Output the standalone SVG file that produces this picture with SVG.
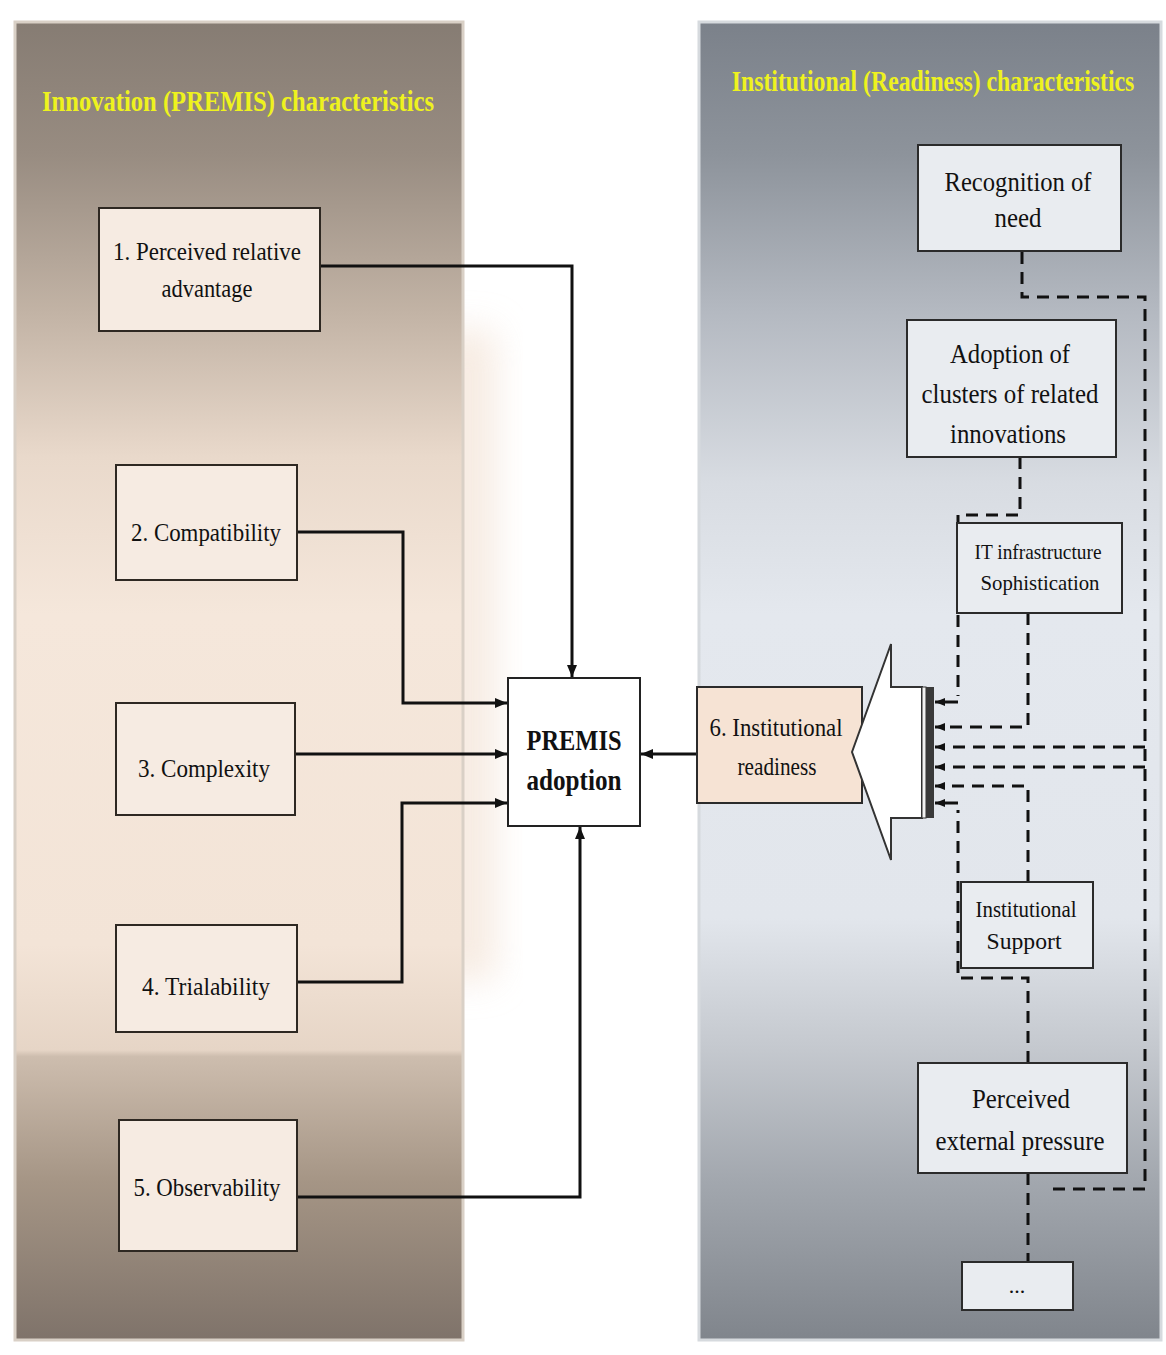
<svg xmlns="http://www.w3.org/2000/svg" width="1166" height="1355" viewBox="0 0 1166 1355">
<defs>
<linearGradient id="gL" x1="0" y1="0" x2="0" y2="1">
<stop offset="0" stop-color="#867c73"/>
<stop offset="0.1" stop-color="#988c81"/>
<stop offset="0.22" stop-color="#c2b3a5"/>
<stop offset="0.33" stop-color="#e9d9cb"/>
<stop offset="0.45" stop-color="#f5e7db"/>
<stop offset="0.7" stop-color="#f3e4d7"/>
<stop offset="0.78" stop-color="#e6d5c6"/>
<stop offset="0.785" stop-color="#cdbdae"/>
<stop offset="0.88" stop-color="#a59585"/>
<stop offset="1" stop-color="#7f736a"/>
</linearGradient>
<linearGradient id="gR" x1="0" y1="0" x2="0" y2="1">
<stop offset="0" stop-color="#7b818a"/>
<stop offset="0.1" stop-color="#8d939b"/>
<stop offset="0.22" stop-color="#b4b9c1"/>
<stop offset="0.35" stop-color="#d8dce2"/>
<stop offset="0.45" stop-color="#e4e8ee"/>
<stop offset="0.68" stop-color="#e2e6ec"/>
<stop offset="0.78" stop-color="#c4c8ce"/>
<stop offset="0.88" stop-color="#a2a7ae"/>
<stop offset="1" stop-color="#80858c"/>
</linearGradient>
<filter id="blur" x="-50%" y="-10%" width="200%" height="120%">
<feGaussianBlur stdDeviation="18"/>
</filter>
<marker id="ah" viewBox="0 0 12 10" refX="12" refY="5" markerWidth="12" markerHeight="10" markerUnits="userSpaceOnUse" orient="auto">
<path d="M0,0 L12,5 L0,10 z" fill="#111"/>
</marker>
<marker id="ahs" viewBox="0 0 10 8" refX="10" refY="4" markerWidth="10" markerHeight="8" markerUnits="userSpaceOnUse" orient="auto">
<path d="M0,0 L10,4 L0,8 z" fill="#111"/>
</marker>
</defs>
<style>
.t{font-family:"Liberation Serif","Times New Roman",serif;fill:#111;text-anchor:middle}
.ttl{font-family:"Liberation Serif","Times New Roman",serif;font-weight:bold;fill:#eef21e;text-anchor:middle}
.lb{fill:#f6ebe2;stroke:#2e2822;stroke-width:2}
.rb{fill:#e9ecf0;stroke:#2b2b2b;stroke-width:2}
.c{fill:none;stroke:#111;stroke-width:3}
.d{fill:none;stroke:#111;stroke-width:3;stroke-dasharray:12 8}
</style>
<rect width="1166" height="1355" fill="#ffffff"/>
<rect x="440" y="330" width="55" height="650" fill="#f3e2d4" opacity="0.7" filter="url(#blur)"/>
<g id="panel-left">
<rect x="15" y="22" width="448" height="1318" fill="url(#gL)" stroke="#d9d0c6" stroke-width="3"/>
<text class="ttl" transform="translate(238,111) scale(0.82,1)" x="0" y="0" font-size="30">Innovation (PREMIS) characteristics</text>
</g>
<g id="panel-right">
<rect x="699" y="22" width="462" height="1318" fill="url(#gR)" stroke="#d6dade" stroke-width="3"/>
<text class="ttl" transform="translate(933,91) scale(0.82,1)" x="0" y="0" font-size="29">Institutional (Readiness) characteristics</text>
</g>
<g id="connectors">
<path class="c" d="M320,266 H572 V677" marker-end="url(#ah)"/>
<path class="c" d="M297,532 H403 V703 H507" marker-end="url(#ah)"/>
<path class="c" d="M295,754 H507" marker-end="url(#ah)"/>
<path class="c" d="M297,982 H402 V803 H507" marker-end="url(#ah)"/>
<path class="c" d="M297,1197 H580 V827" marker-end="url(#ah)"/>
<path class="c" d="M697,754 H641" marker-end="url(#ah)"/>
<path class="d" d="M1022,252 V297 H1145 V1189 H1045"/>
<path class="d" d="M1020,457 V515 H958 V696"/>
<path class="c" stroke-width="2.5" d="M958,702 H935" marker-end="url(#ahs)"/>
<path class="d" d="M1028,613 V727 H935" marker-end="url(#ahs)"/>
<path class="d" d="M1145,747 H935" marker-end="url(#ahs)"/>
<path class="d" d="M1145,767 H935" marker-end="url(#ahs)"/>
<path class="d" d="M1028,882 V786 H935" marker-end="url(#ahs)"/>
<path class="d" d="M1028,1063 V978 H958 V810"/>
<path class="c" stroke-width="2.5" d="M958,803 H935" marker-end="url(#ahs)"/>
<path class="d" d="M1028,1173 V1262"/>
</g>
<g id="n1"><rect class="lb" x="99" y="208" width="221" height="123"/>
<text class="t" x="207" y="260" font-size="26" textLength="188" lengthAdjust="spacingAndGlyphs">1. Perceived relative</text>
<text class="t" x="207" y="297" font-size="26" textLength="91" lengthAdjust="spacingAndGlyphs">advantage</text></g>
<g id="n2"><rect class="lb" x="116" y="465" width="181" height="115"/>
<text class="t" x="206" y="541" font-size="26" textLength="150" lengthAdjust="spacingAndGlyphs">2. Compatibility</text></g>
<g id="n3"><rect class="lb" x="116" y="703" width="179" height="112"/>
<text class="t" x="204" y="777" font-size="26" textLength="132" lengthAdjust="spacingAndGlyphs">3. Complexity</text></g>
<g id="n4"><rect class="lb" x="116" y="925" width="181" height="107"/>
<text class="t" x="206" y="995" font-size="26" textLength="128" lengthAdjust="spacingAndGlyphs">4. Trialability</text></g>
<g id="n5"><rect class="lb" x="119" y="1120" width="178" height="131"/>
<text class="t" x="207" y="1196" font-size="26" textLength="147" lengthAdjust="spacingAndGlyphs">5. Observability</text></g>
<g id="premis"><rect x="508" y="678" width="132" height="148" fill="#ffffff" stroke="#222" stroke-width="2"/>
<text class="t" x="574" y="750" font-size="29" font-weight="bold" textLength="95" lengthAdjust="spacingAndGlyphs">PREMIS</text>
<text class="t" x="574" y="790" font-size="29" font-weight="bold" textLength="95" lengthAdjust="spacingAndGlyphs">adoption</text></g>
<g id="n6"><rect x="697" y="687" width="165" height="116" fill="#f6e3d4" stroke="#2b2b2b" stroke-width="2"/>
<text class="t" x="776" y="736" font-size="26" textLength="133" lengthAdjust="spacingAndGlyphs">6. Institutional</text>
<text class="t" x="777" y="775" font-size="26" textLength="79" lengthAdjust="spacingAndGlyphs">readiness</text></g>
<g id="blockarrow">
<path d="M852,752 L891,644 L891,687 L922,687 L922,818 L891,818 L891,860 Z" fill="#ffffff" stroke="#333" stroke-width="2"/>
<rect x="922" y="687" width="4" height="131" fill="#f2f2f2" stroke="#333" stroke-width="1"/>
<rect x="926" y="687" width="8" height="131" fill="#3a3a3a"/>
</g>
<g id="r1"><rect class="rb" x="918" y="145" width="203" height="106"/>
<text class="t" x="1018" y="191" font-size="28" textLength="147" lengthAdjust="spacingAndGlyphs">Recognition of</text>
<text class="t" x="1018" y="227" font-size="28" textLength="47" lengthAdjust="spacingAndGlyphs">need</text></g>
<g id="r2"><rect class="rb" x="907" y="320" width="209" height="137"/>
<text class="t" x="1010" y="363" font-size="28" textLength="120" lengthAdjust="spacingAndGlyphs">Adoption of</text>
<text class="t" x="1010" y="403" font-size="28" textLength="177" lengthAdjust="spacingAndGlyphs">clusters of related</text>
<text class="t" x="1008" y="443" font-size="28" textLength="116" lengthAdjust="spacingAndGlyphs">innovations</text></g>
<g id="r3"><rect class="rb" x="957" y="523" width="165" height="90"/>
<text class="t" x="1038" y="559" font-size="21" textLength="127" lengthAdjust="spacingAndGlyphs">IT infrastructure</text>
<text class="t" x="1040" y="590" font-size="22" textLength="119" lengthAdjust="spacingAndGlyphs">Sophistication</text></g>
<g id="r4"><rect class="rb" x="961" y="882" width="132" height="86"/>
<text class="t" x="1026" y="917" font-size="23" textLength="101" lengthAdjust="spacingAndGlyphs">Institutional</text>
<text class="t" x="1024" y="949" font-size="23" textLength="75" lengthAdjust="spacingAndGlyphs">Support</text></g>
<g id="r5"><rect class="rb" x="918" y="1063" width="209" height="110"/>
<text class="t" x="1021" y="1108" font-size="28" textLength="98" lengthAdjust="spacingAndGlyphs">Perceived</text>
<text class="t" x="1020" y="1150" font-size="28" textLength="169" lengthAdjust="spacingAndGlyphs">external pressure</text></g>
<g id="r6"><rect class="rb" x="962" y="1262" width="111" height="48"/>
<text class="t" x="1017" y="1293" font-size="22">...</text></g>
</svg>
